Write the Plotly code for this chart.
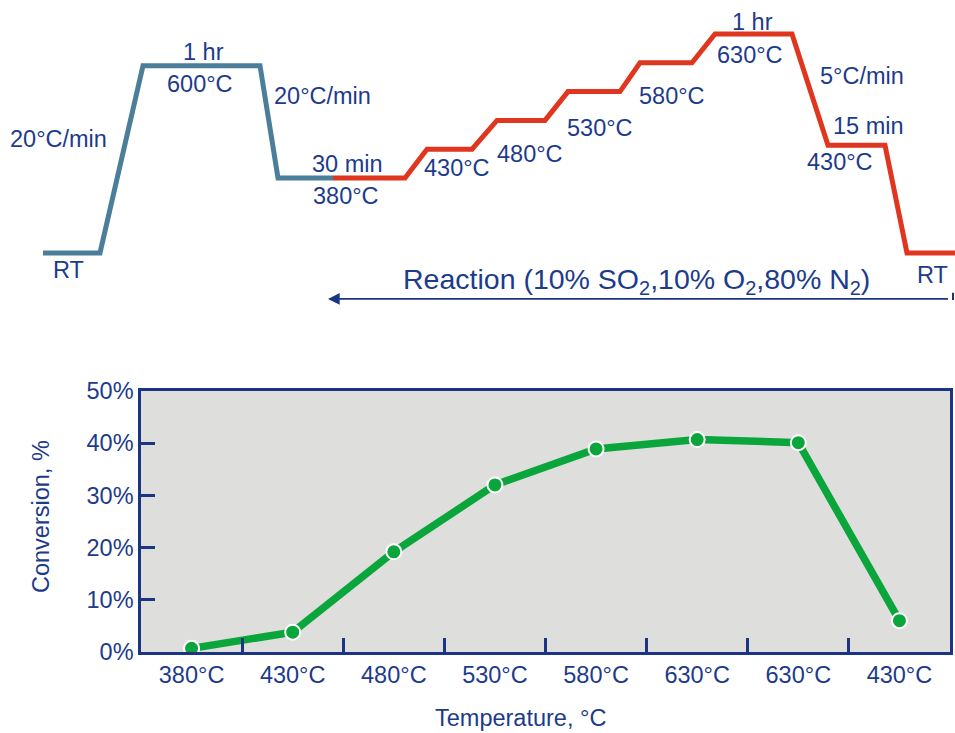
import plotly.graph_objects as go

# ---------------- data ----------------
# Bottom chart: conversion vs temperature step
temp_labels = ["380°C", "430°C", "480°C", "530°C", "580°C", "630°C", "630°C", "430°C"]
conversion = [0.007, 0.038, 0.192, 0.320, 0.389, 0.407, 0.401, 0.060]
y_ticks = [0, 0.1, 0.2, 0.3, 0.4, 0.5]

# Top schematic: temperature programme (schematic time units, drawn level in °C)
pretreat_time = [4.3, 10.0, 14.3, 26.0, 27.8, 33.3]
pretreat_level = [250, 250, 575, 575, 380, 380]
reaction_time = [33.3, 40.5, 42.7, 47.2, 49.7, 54.5, 56.8, 62.0, 64.0, 69.2,
                 71.5, 79.2, 82.8, 88.5, 90.7, 95.5]
reaction_level = [380, 380, 430, 430, 480, 480, 530, 530, 580, 580,
                  630, 630, 437, 437, 250, 250]
reaction_span = [32.8, 95.3]
reaction_arrow_level = 170

# label text, schematic time, schematic level
profile_labels = [
    ("20°C/min", 5.8, 447),
    ("1 hr", 20.3, 598),
    ("600°C", 20.0, 544),
    ("20°C/min", 32.2, 522),
    ("30 min", 34.7, 405),
    ("380°C", 34.6, 348),
    ("RT", 6.8, 220),
    ("430°C", 45.7, 398),
    ("480°C", 53.0, 421),
    ("530°C", 60.0, 466),
    ("580°C", 67.2, 523),
    ("1 hr", 75.2, 651),
    ("630°C", 75.0, 594),
    ("5°C/min", 86.2, 557),
    ("15 min", 86.8, 470),
    ("430°C", 84.0, 408),
    ("RT", 93.2, 211),
]

NAVY = "#1b3584"
TEXT = "#1d3b8b"
FONT = "Liberation Sans, Arial, sans-serif"
FS = 23.5

W, H = 955, 733

fig = go.Figure()

# ---- top schematic ----
fig.add_trace(go.Scatter(x=pretreat_time, y=pretreat_level, mode="lines",
                         line=dict(color="#4a7e99", width=5), xaxis="x2", yaxis="y2",
                         hoverinfo="skip", showlegend=False))
fig.add_trace(go.Scatter(x=reaction_time, y=reaction_level, mode="lines",
                         line=dict(color="#e0361f", width=5), xaxis="x2", yaxis="y2",
                         hoverinfo="skip", showlegend=False))
# arrow line end tick
fig.add_trace(go.Scatter(x=[reaction_span[1]], y=[reaction_arrow_level], mode="markers",
                         marker=dict(symbol="line-ns", size=9, line=dict(color=NAVY, width=2)),
                         xaxis="x2", yaxis="y2", hoverinfo="skip", showlegend=False))

annotations = []
for txt, t, lv in profile_labels:
    annotations.append(dict(text=txt, x=t, y=lv, xref="x2", yref="y2", showarrow=False,
                            font=dict(family=FONT, size=FS, color=TEXT),
                            xanchor="center", yanchor="middle"))
# arrow
annotations.append(dict(x=reaction_span[0], y=reaction_arrow_level, ax=reaction_span[1],
                        ay=reaction_arrow_level, xref="x2", yref="y2", axref="x2", ayref="y2",
                        text=" ", showarrow=True, arrowhead=2, arrowsize=1.3, arrowwidth=1.8,
                        arrowcolor=NAVY))
annotations.append(dict(text="Reaction (10% SO<sub>2</sub>,10% O<sub>2</sub>,80% N<sub>2</sub>)",
                        x=63.6, y=201, xref="x2", yref="y2", showarrow=False,
                        font=dict(family=FONT, size=28.5, color=TEXT),
                        xanchor="center", yanchor="middle"))

# ---- bottom chart ----
xs = list(range(len(temp_labels)))
fig.add_trace(go.Scatter(x=xs, y=conversion, mode="lines+markers",
                         line=dict(color="#0aa63b", width=7.5),
                         marker=dict(color="#0aa63b", size=15, line=dict(color="white", width=2)),
                         showlegend=False, hoverinfo="skip"))

# axis titles (paper coordinates)
annotations.append(dict(text="Conversion, %", x=41 / W, y=1 - 517 / H, xref="paper", yref="paper",
                        showarrow=False, textangle=-90, xanchor="center", yanchor="middle",
                        font=dict(family=FONT, size=FS, color=TEXT)))
annotations.append(dict(text="Temperature, °C", x=520 / W, y=1 - 718 / H, xref="paper",
                        yref="paper", showarrow=False, xanchor="center", yanchor="middle",
                        font=dict(family=FONT, size=FS, color=TEXT)))

fig.update_layout(
    width=W, height=H,
    margin=dict(l=0, r=0, t=0, b=0),
    paper_bgcolor="white",
    plot_bgcolor="rgba(0,0,0,0)",
    font=dict(family=FONT, size=FS, color=TEXT),
    annotations=annotations,
    shapes=[dict(type="rect", xref="x domain", yref="y domain", x0=0, x1=1, y0=0, y1=1,
                 fillcolor="#dededc", line=dict(width=0), layer="below")],
    xaxis=dict(domain=[141 / W, 950 / W], range=[-0.5, 7.5],
               tickvals=xs, ticktext=temp_labels, ticks="", showgrid=False, zeroline=False,
               showline=True, mirror=True, linecolor=NAVY, linewidth=2.5,
               tickfont=dict(family=FONT, size=FS, color=TEXT),
               minor=dict(tickvals=[0.5, 1.5, 2.5, 3.5, 4.5, 5.5, 6.5], ticks="inside",
                          ticklen=14, tickwidth=2.5, tickcolor=NAVY, showgrid=False),
               automargin=False, fixedrange=True),
    yaxis=dict(domain=[1 - 652 / H, 1 - 391 / H], range=[0, 0.5],
               tickvals=y_ticks, tickformat=".0%", ticks="inside", ticklen=14, tickwidth=2.5,
               tickcolor=NAVY, showgrid=False, zeroline=False,
               showline=True, mirror=True, linecolor=NAVY, linewidth=2.5,
               tickfont=dict(family=FONT, size=FS, color=TEXT),
               automargin=False, fixedrange=True),
    xaxis2=dict(domain=[0, 1], range=[0, 95.5], visible=False, fixedrange=True),
    yaxis2=dict(domain=[1 - 300 / H, 1], range=[168.2, 689], visible=False, fixedrange=True),
)

fig.write_html("out.html", config={"displayModeBar": False},
               post_script="document.body.style.margin='0';document.body.style.overflow='hidden';")
